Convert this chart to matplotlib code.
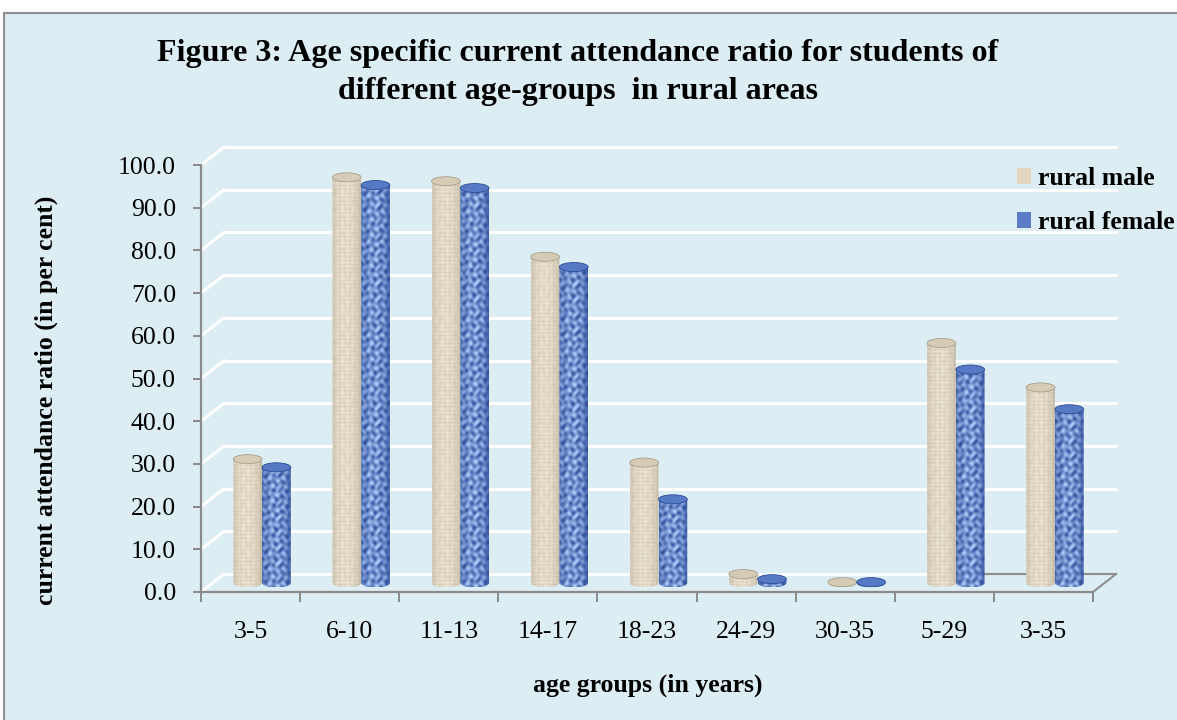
import numpy as np
import matplotlib.pyplot as plt
from matplotlib.patches import Ellipse, PathPatch, Rectangle, Patch
from matplotlib.path import Path
from matplotlib import transforms

groups = ['3-5', '6-10', '11-13', '14-17', '18-23', '24-29', '30-35', '5-29', '3-35']
male = [29.0, 95.0, 94.1, 76.4, 28.2, 2.1, 0.2, 56.2, 45.8]
female = [27.1, 93.2, 92.5, 74.0, 19.6, 0.9, 0.2, 50.0, 40.7]
yticks = np.arange(0, 101, 10)

W, H = 1177, 720
plt.rcParams['font.family'] = ['Liberation Serif', 'DejaVu Serif']

fig = plt.figure(figsize=(W / 100, H / 100), dpi=100)
fig.patch.set_facecolor('white')
fig.patches.append(Rectangle((4 / W, -0.01), 1.0, (H - 13) / H + 0.01,
                             transform=fig.transFigure, facecolor='#dcedf3',
                             edgecolor='#8f8f8f', lw=1.5, zorder=-1))

ax = fig.add_axes([201 / W, (H - 592) / H, 892 / W, 427 / H])
ax.set_xlim(0, 9)
ax.set_ylim(0, 100)
ax.patch.set_visible(False)

# pixel scale of the front plane, used for the fake depth
px_x = 892 / 9
px_y = 427 / 100
back = transforms.offset_copy(ax.transData, fig=fig, x=23, y=18, units='dots')
mid = transforms.offset_copy(ax.transData, fig=fig, x=11.5, y=9, units='dots')
dx, dy = 23 / px_x, 18 / px_y

# back wall grid and side-wall diagonals
for y in yticks:
    if y == 0:
        ax.plot([0, 7.45], [0, 0], transform=back, color='white', lw=2, zorder=1, clip_on=False)
        ax.plot([7.45, 9], [0, 0], transform=back, color='#8f8f8f', lw=1.5, zorder=1, clip_on=False)
    else:
        ax.plot([0, 9], [y, y], transform=back, color='white', lw=2.2, zorder=1, clip_on=False)
    ax.plot([0, dx], [y, y + dy], color='white', lw=2.2, zorder=1, clip_on=False)
ax.plot([9, 9 + dx], [0, dy], color='#8f8f8f', lw=1.5, zorder=1, clip_on=False)


def shade(nx, ny, kind):
    t = (np.arange(nx) + 0.5) / nx
    prof = np.sin(np.pi * np.clip(0.08 + t * 0.9, 0, 1)) ** 0.5
    yy, xx = np.mgrid[0:ny, 0:nx].astype(float)
    if kind == 'm':
        dark = np.array([0.72, 0.68, 0.60])
        light = np.array([0.95, 0.92, 0.85])
        tex = (0.75 + 0.12 * np.cos(2 * np.pi * yy / 4.0)
               + 0.08 * np.cos(2 * np.pi * xx / 5.0)
               + 0.05 * np.sin(yy * 0.37 + 2 * np.sin(xx * 0.5)))
    else:
        dark = np.array([0.15, 0.27, 0.58])
        light = np.array([0.68, 0.80, 0.98])
        f = (np.sin(xx * 0.9 + 1.4 * np.sin(yy * 0.4))
             + np.sin(yy * 0.8 + 1.2 * np.sin(xx * 0.55))
             + 0.6 * np.sin((xx - yy) * 0.45 + np.sin(yy * 0.21)))
        tex = 0.6 + 0.2 * f
    k = np.clip(prof[None, :] * tex, 0, 1)[..., None]
    img = dark[None, None, :] + (light - dark)[None, None, :] * k
    return np.clip(img, 0, 1)


def cylinder(xc, w, v, cap, edge, kind, z):
    h = 9 / px_y
    x0, x1 = xc - w / 2, xc + w / 2
    arc = Path.arc(180, 360)
    av = arc.vertices * [w / 2, h / 2] + [xc, 0]
    verts = [(x0, v), (x0, 0)] + [tuple(p) for p in av] + [(x1, v), (x0, v)]
    codes = [Path.MOVETO, Path.LINETO] + [Path.LINETO] + list(arc.codes[1:]) + [Path.LINETO, Path.CLOSEPOLY]
    body = PathPatch(Path(verts, codes), facecolor='none', edgecolor='none', transform=mid, zorder=z)
    ax.add_patch(body)
    ny = max(int((v + h) * px_y) + 2, 4)
    img = shade(29, ny, kind)
    im = ax.imshow(img, extent=(x0, x1, -h / 2, v), origin='lower', aspect='auto',
                   transform=mid, zorder=z, interpolation='bilinear')
    im.set_clip_path(body)
    ax.add_patch(Ellipse((xc, v), w, h, transform=mid, facecolor=cap,
                         edgecolor=edge, lw=0.6, zorder=z + 0.001))


w = 0.29
for i, (m, f) in enumerate(zip(male, female)):
    xc = i + 0.5
    cylinder(xc - w / 2, w, m, '#d6ccb6', '#a89e8a', 'm', 3 + i * 0.01)
    cylinder(xc + w / 2, w, f, '#5679c6', '#2c4c92', 'f', 3.005 + i * 0.01)
ax.set_xlim(0, 9)
ax.set_ylim(0, 100)

for s in ['top', 'right']:
    ax.spines[s].set_visible(False)
for s in ['left', 'bottom']:
    ax.spines[s].set_color('#8a8a8a')
    ax.spines[s].set_linewidth(1.6)

ax.set_yticks(yticks)
ax.set_yticklabels(['%.1f' % v for v in yticks])
ax.tick_params(axis='y', direction='out', length=6, width=1.4, color='#8a8a8a', labelsize=18.5, pad=12)
ax.set_xticks(np.arange(0, 10))
ax.set_xticklabels([])
ax.set_xticks(np.arange(9) + 0.5, minor=True)
ax.set_xticklabels(groups, minor=True)
ax.tick_params(axis='x', which='major', direction='out', length=7, width=1.4, color='#8a8a8a')
ax.tick_params(axis='x', which='minor', length=0, labelsize=18.5, pad=21)

fig.text(578 / W, 1 - 54 / H, 'Figure 3: Age specific current attendance ratio for students of',
         ha='center', va='center', fontsize=23, fontweight='bold')
fig.text(578 / W, 1 - 92 / H, 'different age-groups  in rural areas',
         ha='center', va='center', fontsize=23, fontweight='bold')
fig.text(46 / W, 1 - 400 / H, 'current attendance ratio (in per cent)', rotation=90,
         ha='center', va='center', fontsize=18.5, fontweight='bold')
fig.text(648 / W, 1 - 685 / H, 'age groups (in years)', ha='center', va='center',
         fontsize=18.5, fontweight='bold')

handles = [Patch(facecolor='#e3d5bf', edgecolor='none'), Patch(facecolor='#5a7cc4', edgecolor='none')]
fig.legend(handles, ['rural male', 'rural female'], loc='upper left',
           bbox_to_anchor=(1017 / W, 1 - 167 / H), frameon=False, borderpad=0, borderaxespad=0,
           prop={'weight': 'bold', 'size': 18.5}, handlelength=0.55, handleheight=0.55,
           handletextpad=0.25, labelspacing=0.82)

fig.savefig('out.png', dpi=100)
